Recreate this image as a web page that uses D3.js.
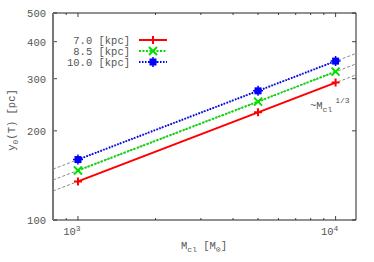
<!DOCTYPE html>
<html>
<head>
<meta charset="utf-8">
<script src="https://cdn.jsdelivr.net/npm/d3@7"></script>
<style>
  body { margin: 0; background: #fff; }
  text { font-family: "Liberation Mono", "DejaVu Sans Mono", monospace; fill: #555; }
</style>
</head>
<body>
<div id="chart"></div>
<script>
var masses = [1000, 5000, 10000];
var seriesNames = ['7.0 [kpc]', '8.5 [kpc]', '10.0 [kpc]'];
var seriesValues = [
    [135, 231, 291],
    [147, 251, 317],
    [160, 273, 344]
];
var seriesColors = ['#ff0000', '#00e000', '#0000ff'];
var guideMasses = [800, 12000];
var guideValues = [
    [125.3, 309],
    [136.5, 336.5],
    [148.5, 365]
];
var yTicks = [100, 200, 300, 400, 500];
var xMajor = [1000, 10000];
var xMinor = [900, 2000, 3000, 4000, 5000, 6000, 7000, 8000, 9000];

var width = 374, height = 262;
var plotLeft = 53, plotRight = 356, plotTop = 13, plotBottom = 220;

var svg = d3.select('#chart')
    .append('svg')
    .attr('width', width)
    .attr('height', height);

var x = d3.scaleLog().domain([800, 12000]).range([plotLeft, plotRight]);
var y = d3.scaleLog().domain([100, 500]).range([plotBottom, plotTop]);

// guide lines ~ M^(1/3)
guideValues.forEach(function(vals) {
    svg.append('line')
        .attr('x1', x(guideMasses[0]))
        .attr('y1', y(vals[0]))
        .attr('x2', x(guideMasses[1]))
        .attr('y2', y(vals[1]))
        .attr('stroke', '#888')
        .attr('stroke-width', 1)
        .attr('stroke-dasharray', '3,2');
});

// ticks
var tickG = svg.append('g').attr('stroke', '#444').attr('stroke-width', 1);
yTicks.forEach(function(t) {
    tickG.append('line').attr('x1', plotLeft).attr('x2', plotLeft + 4).attr('y1', y(t)).attr('y2', y(t));
    tickG.append('line').attr('x1', plotRight).attr('x2', plotRight - 4).attr('y1', y(t)).attr('y2', y(t));
});
xMajor.forEach(function(t) {
    tickG.append('line').attr('x1', x(t)).attr('x2', x(t)).attr('y1', plotBottom).attr('y2', plotBottom - 4);
    tickG.append('line').attr('x1', x(t)).attr('x2', x(t)).attr('y1', plotTop).attr('y2', plotTop + 4);
});
xMinor.forEach(function(t) {
    tickG.append('line').attr('x1', x(t)).attr('x2', x(t)).attr('y1', plotBottom).attr('y2', plotBottom - 2);
    tickG.append('line').attr('x1', x(t)).attr('x2', x(t)).attr('y1', plotTop).attr('y2', plotTop + 2);
});

// frame
svg.append('line').attr('x1', plotLeft).attr('x2', plotRight).attr('y1', plotTop).attr('y2', plotTop)
    .attr('stroke', '#222').attr('stroke-width', 1);
svg.append('line').attr('x1', plotLeft).attr('x2', plotRight).attr('y1', plotBottom).attr('y2', plotBottom)
    .attr('stroke', '#222').attr('stroke-width', 1);
svg.append('line').attr('x1', plotRight).attr('x2', plotRight).attr('y1', plotTop).attr('y2', plotBottom)
    .attr('stroke', '#222').attr('stroke-width', 1);
svg.append('line').attr('x1', plotLeft).attr('x2', plotLeft).attr('y1', plotTop).attr('y2', plotBottom)
    .attr('stroke', '#777').attr('stroke-width', 2);

// tick labels
yTicks.forEach(function(t) {
    svg.append('text')
        .attr('x', 46)
        .attr('y', y(t) + 4)
        .attr('text-anchor', 'end')
        .attr('font-size', 10.5)
        .text(t);
});
xMajor.forEach(function(t) {
    var lab = svg.append('text')
        .attr('x', x(t) - 6)
        .attr('y', 235)
        .attr('text-anchor', 'middle')
        .attr('font-size', 10.5);
    lab.append('tspan').text('10');
    lab.append('tspan').attr('dy', -4).attr('font-size', 8).text(Math.round(Math.log10(t)));
});

// axis titles
var xt = svg.append('text')
    .attr('x', 204)
    .attr('y', 249)
    .attr('text-anchor', 'middle')
    .attr('font-size', 10.5);
xt.append('tspan').text('M');
xt.append('tspan').attr('dy', 3).attr('font-size', 8).text('cl');
xt.append('tspan').attr('dy', -3).text('  [M');
xt.append('tspan').attr('dy', 3).attr('font-size', 8).text('\u2299');
xt.append('tspan').attr('dy', -3).text(']');

var yt = svg.append('text')
    .attr('transform', 'translate(15,120) rotate(-90)')
    .attr('text-anchor', 'middle')
    .attr('font-size', 10.5);
yt.append('tspan').text('y');
yt.append('tspan').attr('dy', 3).attr('font-size', 8).text('0');
yt.append('tspan').attr('dy', -3).text('(T)  [pc]');

// annotation
var ann = svg.append('text')
    .attr('x', 310)
    .attr('y', 109)
    .attr('font-size', 10.5);
ann.append('tspan').text('~M');
ann.append('tspan').attr('dy', 3).attr('font-size', 8).text('cl');
ann.append('tspan').attr('dy', -9).attr('dx', 3).attr('font-size', 8).text('1/3');

// markers
function drawMarker(g, type, cx, cy, color) {
    var s = 4;
    if (type === 0) {
        g.append('path').attr('d', 'M' + (cx - s) + ',' + cy + 'H' + (cx + s) + 'M' + cx + ',' + (cy - s) + 'V' + (cy + s))
            .attr('stroke', color).attr('stroke-width', 2);
    } else if (type === 1) {
        g.append('path').attr('d', 'M' + (cx - s) + ',' + (cy - s) + 'L' + (cx + s) + ',' + (cy + s) + 'M' + (cx - s) + ',' + (cy + s) + 'L' + (cx + s) + ',' + (cy - s))
            .attr('stroke', color).attr('stroke-width', 2);
    } else {
        g.append('rect').attr('x', cx - 3.5).attr('y', cy - 3.5).attr('width', 7).attr('height', 7).attr('fill', color);
        g.append('path').attr('d', 'M' + (cx - s - 1) + ',' + cy + 'H' + (cx + s + 1) + 'M' + cx + ',' + (cy - s - 1) + 'V' + (cy + s + 1))
            .attr('stroke', color).attr('stroke-width', 1.5);
    }
}

var dashes = [null, '2,1.5', '1.5,1.5'];
var line = d3.line().x(function(d) { return x(d[0]); }).y(function(d) { return y(d[1]); });

seriesValues.forEach(function(vals, i) {
    var g = svg.append('g');
    var pts = masses.map(function(m, j) { return [m, vals[j]]; });
    g.append('path')
        .attr('d', line(pts))
        .attr('fill', 'none')
        .attr('stroke', seriesColors[i])
        .attr('stroke-width', 2)
        .attr('stroke-dasharray', dashes[i]);
    pts.forEach(function(p) {
        drawMarker(g, i, x(p[0]), y(p[1]), seriesColors[i]);
    });

    // legend
    var ly = 40 + i * 11;
    svg.append('text')
        .attr('x', 130)
        .attr('y', ly + 4)
        .attr('text-anchor', 'end')
        .attr('font-size', 10.5)
        .text(seriesNames[i]);
    g.append('line')
        .attr('x1', 139).attr('x2', 167).attr('y1', ly).attr('y2', ly)
        .attr('stroke', seriesColors[i])
        .attr('stroke-width', 2)
        .attr('stroke-dasharray', dashes[i]);
    drawMarker(g, i, 153, ly, seriesColors[i]);
});
</script>
</body>
</html>
